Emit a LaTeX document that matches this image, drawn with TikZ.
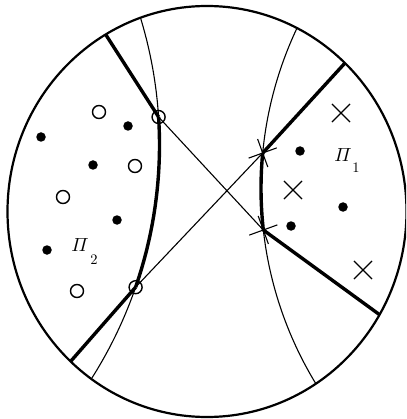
\documentclass[tikz,border=0pt]{standalone}
\usepackage{amsmath}
\usetikzlibrary{shapes.misc}
\tikzset{
  thinline/.style={line width=1.1pt},
  thickline/.style={line width=3.4pt},
  dotmark/.style={circle, fill=black, inner sep=0pt, minimum size=9.5pt},
  ringmark/.style={circle, draw=black, line width=1.4pt, inner sep=0pt, minimum size=13pt},
  xmark/.style={cross out, draw=black, line width=1.1pt, inner sep=0pt, minimum size=17pt},
  lab/.style={inner sep=0pt, scale=1.9},
  sublab/.style={inner sep=0pt, scale=1.45},
}
\begin{document}
\begin{tikzpicture}[x=1pt, y=-1pt]
\useasboundingbox (0,0) rectangle (406,419);
\clip (0,0) rectangle (406,419);
% outer circle
\draw[line width=2.2pt] (207,211.5) ellipse [x radius=199.5pt, y radius=205.5pt];
% key points
\coordinate (B) at (158.6,117);
\coordinate (C) at (135.6,287.2);
\coordinate (F) at (262.7,153);
\coordinate (G) at (263.3,230);
\coordinate (P1) at (106,35);
\coordinate (P2) at (71,361);
\coordinate (P3) at (345,63);
\coordinate (P4) at (380,315);
% thin arcs
\draw[thinline] plot[domain=-16.98:32.34, samples=80] ({-276+435.5*cos(\x)},{145+435.5*sin(\x)});
\draw[thinline] plot[domain=148.58:205.31, samples=80] ({636.2+375.2*cos(\x)},{188.4+375.2*sin(\x)});
% thick arc parts
\draw[thickline] plot[domain=-3.69:19.06, samples=40] ({-276+435.5*cos(\x)},{145+435.5*sin(\x)});
\draw[thickline] plot[domain=173.64:185.42, samples=30] ({636.2+375.2*cos(\x)},{188.4+375.2*sin(\x)});
% thin diagonals
\draw[thinline] (B) -- (G);
\draw[thinline] (C) -- (F);
% thick boundaries
\draw[thickline] (P1) -- (B);
\draw[thickline] (C) -- (P2);
\draw[thickline] (P3) -- (F);
\draw[thickline] (G) -- (P4);
% markers at intersection points
\node[ringmark] (rb) at (B) {};
\node[ringmark] (rc) at (C) {};
\node[xmark, rotate=-25, minimum size=20pt] (xf) at (F) {};
\node[xmark, rotate=-25, minimum size=20pt] (xg) at (G) {};
% class 2 samples
\node[ringmark] (o1) at (99,112) {};
\node[ringmark] (o2) at (135,166) {};
\node[ringmark] (o3) at (63,197) {};
\node[ringmark] (o4) at (77,291) {};
\node[dotmark] (d1) at (128,126) {};
\node[dotmark] (d2) at (41,137) {};
\node[dotmark] (d3) at (93,165) {};
\node[dotmark] (d4) at (117,220) {};
\node[dotmark] (d5) at (47,250) {};
% class 1 samples
\node[dotmark] (d6) at (300,151) {};
\node[dotmark] (d7) at (343,207) {};
\node[dotmark] (d8) at (291,226) {};
\node[xmark] (x1) at (341,113) {};
\node[xmark] (x2) at (293,190) {};
\node[xmark] (x3) at (363,270) {};
% labels
\node[lab] (L1) at (343,155) {$\varPi$};
\node[sublab] (L1s) at (356,168) {$1$};
\node[lab] (L2) at (80,245) {$\varPi$};
\node[sublab] (L2s) at (94,260) {$2$};
\end{tikzpicture}
\end{document}
